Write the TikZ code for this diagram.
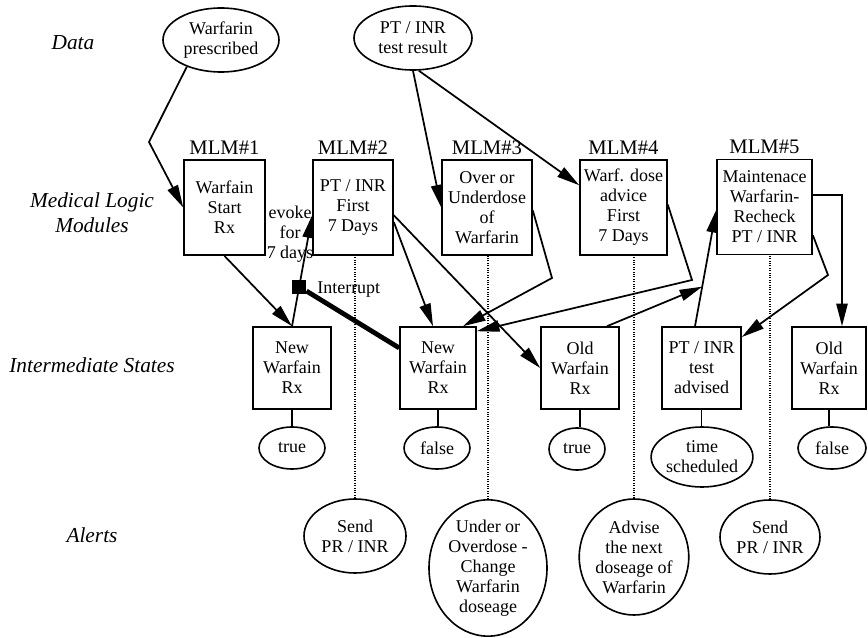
\documentclass[tikz,border=0pt]{standalone}
\usepackage{fontspec}
\setmainfont{Liberation Serif}
\usetikzlibrary{shapes.geometric,arrows.meta,calc}
\begin{document}
\begin{tikzpicture}[x=0.75pt,y=-0.75pt,
  every node/.style={font=\fontsize{13.5}{15}\selectfont, inner sep=0pt, align=center},
  mlm/.style={draw, line width=1.2pt, minimum height=71.5pt},
  state/.style={draw, line width=1.2pt, minimum height=61.5pt},
  oval/.style={draw, ellipse, line width=1.2pt},
  tag/.style={font=\fontsize{15.5}{18}\selectfont, anchor=base},
  layer/.style={font=\fontsize{16}{19}\selectfont\itshape},
  link/.style={line width=1.3pt, -{Triangle[length=17pt,width=8.5pt]}},
  plain/.style={line width=1.3pt},
  alertlink/.style={line width=0.8pt, densely dotted}
]
\useasboundingbox[fill=white] (0,0) rectangle (868,638);

% row labels
\node[layer] (lData)  at (73,43)   {Data};
\node[layer] (lMLM)   at (92,213)  {Medical Logic\\Modules};
\node[layer] (lState) at (92,365)  {Intermediate States};
\node[layer] (lAlert) at (92,535)  {Alerts};

% data items
\node[oval, minimum width=87pt,   minimum height=48pt] (dw) at (221,40) {Warfarin\\prescribed};
\node[oval, minimum width=88.5pt, minimum height=48pt] (dp) at (413,38) {PT / INR\\test result};

% medical logic modules
\node[mlm, minimum width=60.75pt] (m1) at (224.5,207.5) {Warfain\\Start\\Rx};
\node[mlm, minimum width=60pt]    (m2) at (353,207.5)   {PT / INR\\First\\7 Days};
\node[mlm, minimum width=67.5pt]  (m3) at (487,207.5)   {Over or\\Underdose\\of\\Warfarin};
\node[mlm, minimum width=65.25pt] (m4) at (623.5,207.5) {Warf. dose\\advice\\First\\7 Days};
\node[mlm, minimum width=71.25pt] (m5) at (764.5,207)   {Maintenace\\Warfarin-\\Recheck\\PT / INR};

\node[tag] (t1) at ($(m1.north)+(0,-5)$) {MLM\#1};
\node[tag] (t2) at ($(m2.north)+(0,-5)$) {MLM\#2};
\node[tag] (t3) at ($(m3.north)+(0,-5)$) {MLM\#3};
\node[tag] (t4) at ($(m4.north)+(0,-5)$) {MLM\#4};
\node[tag] (t5) at ($(m5.north)+(0,-5)$) {MLM\#5};

% intermediate states
\node[state, minimum width=58.5pt] (s1) at (292,368)   {New\\Warfain\\Rx};
\node[state, minimum width=57pt]   (s2) at (438,368)   {New\\Warfain\\Rx};
\node[state, minimum width=58.5pt] (s3) at (580,368)   {Old\\Warfain\\Rx};
\node[state, minimum width=59.25pt](s4) at (701.5,368) {PT / INR\\test\\advised};
\node[state, minimum width=55.5pt] (s5) at (829,368)   {Old\\Warfain\\Rx};

% state values
\node[oval, minimum width=49.5pt, minimum height=31.5pt] (v1) at (292,448) {true};
\node[oval, minimum width=49.5pt, minimum height=31.5pt] (v2) at (437,448) {false};
\node[oval, minimum width=42pt,   minimum height=31.5pt] (v3) at (577,449) {true};
\node[oval, minimum width=69pt,   minimum height=45pt]   (v4) at (702,457) {time\\scheduled};
\node[oval, minimum width=51pt,   minimum height=31.5pt] (v5) at (832,448) {false};

% alerts
\node[oval, minimum width=76.5pt, minimum height=55.5pt] (a1) at (355,536) {Send\\PR / INR};
\node[oval, minimum width=88.5pt, minimum height=102pt]  (a2) at (488,568) {Under or\\Overdose -\\Change\\Warfarin\\doseage};
\node[oval, minimum width=79.5pt, minimum height=87pt]   (a3) at (634,557) {Advise\\the next\\doseage of\\Warfarin};
\node[oval, minimum width=75pt,   minimum height=55.5pt] (a4) at (770,537) {Send\\PR / INR};

% bend points and attachment points
\coordinate (k1) at (149,142);
\coordinate (k3) at (552,278);
\coordinate (k4) at (692,280);
\coordinate (k5) at (828,275);
\coordinate (m2ev) at ($(m2.north west)!0.58!(m2.south west)$);
\coordinate (s4o) at ($(s4.north)+(-6.5,0)$);
\coordinate (m5i) at ($(m5.north west)!0.53!(m5.south west)$);
\coordinate (jn)  at ($(s4o)!0.34!(m5i)$);

% data to modules
\draw[link] (dw.218) -- (k1) -- (m1.west);
\draw[link] (dp.south) -- (m3.west);
\draw[link] (dp.280) -- ($(m4.north west)!0.27!(m4.south west)$);

% modules and states
\draw[link] (m1.south) -- (s1.north);
\draw[link] (s1.north) -- (m2ev);
\node (evk) at (290,234) {evoke\\for\\7 days};
\draw[link] ($(m2.north east)!0.65!(m2.south east)$) -- ($(s2.north)+(-5,0)$);
\draw[link] ($(m2.north east)!0.58!(m2.south east)$) -- (s3.west);
\draw[link] ($(m3.north east)!0.53!(m3.south east)$) -- (k3) -- ($(s2.north)+(25,0)$);
\draw[link] ($(m4.north east)!0.47!(m4.south east)$) -- (k4) -- ($(s2.north east)!0.06!(s2.south east)$);
\draw[link] (s4o) -- (m5i);
\draw[link] ($(s3.north)+(27,0)$) -- (jn);
\draw[link] ($(m5.north east)!0.79!(m5.south east)$) -- (k5) -- ($(s4.north east)!0.13!(s4.south east)$);
\draw[link] ($(m5.north east)!0.375!(m5.south east)$) -| ($(s5.north)+(13,0)$);

% interrupt
\node[fill=black, minimum size=10.5pt] (intr) at ($(s1.north)!0.357!(m2ev)$) {};
\draw[line width=3.6pt] (intr) -- ($(s2.north west)!0.26!(s2.south west)$);
\node[anchor=west] (intl) at (317,290) {Interrupt};

% states to values
\draw[plain] (s1.south) -- (s1.south |- v1.north);
\draw[plain] (s2.south) -- (s2.south |- v2.north);
\draw[plain] (s3.south) -- (s3.south |- v3.north);
\draw[plain] (s4.south) -- (s4.south |- v4.north);
\draw[plain] (s5.south) -- (s5.south |- v5.north);

% modules to alerts
\draw[alertlink] (a1.north) -- (a1.north |- m2.south);
\draw[alertlink] (a2.north) -- (a2.north |- m3.south);
\draw[alertlink] (a3.north) -- (a3.north |- m4.south);
\draw[alertlink] (a4.north) -- (a4.north |- m5.south);
\end{tikzpicture}
\end{document}
